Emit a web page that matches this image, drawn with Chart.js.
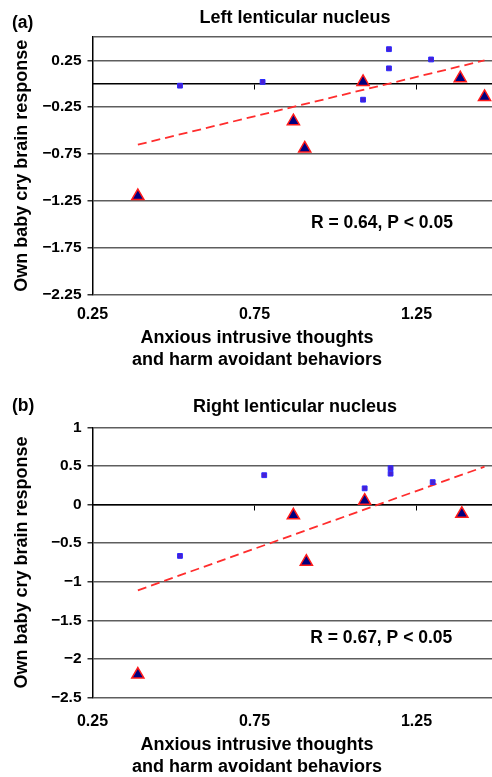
<!DOCTYPE html>
<html>
<head>
<meta charset="utf-8">
<script src="https://cdn.jsdelivr.net/npm/chart.js@4.4.1/dist/chart.umd.min.js"></script>
<style>
  html, body { margin: 0; padding: 0; background: #fff; overflow: hidden; width: 492px; height: 777px; }
  canvas { position: absolute; left: 0; }
  #chartA { top: 0; }
  #chartB { top: 388px; }
</style>
</head>
<body>
<canvas id="chartA" width="506" height="388"></canvas>
<canvas id="chartB" width="506" height="390"></canvas>
<script>
const xTicks = [0.25, 0.75, 1.25];
const xLabels = ['0.25', '0.75', '1.25'];
const xTitle = ['Anxious intrusive thoughts', 'and harm avoidant behaviors'];
const yTitle = 'Own baby cry brain response';

// (a) left lenticular nucleus
const leftYTicks = [-2.25, -1.75, -1.25, -0.75, -0.25, 0.25, 0.5];
const leftYLabels = ['\u22122.25', '\u22121.75', '\u22121.25', '\u22120.75', '\u22120.25', '0.25', ''];
const leftSquareX = [0.52, 0.775, 1.085, 1.165, 1.165, 1.295];
const leftSquareY = [-0.02, 0.02, -0.17, 0.37, 0.165, 0.26];
const leftTriX = [0.39, 0.87, 0.905, 1.085, 1.385, 1.46];
const leftTriY = [-1.2, -0.4, -0.69, 0.02, 0.06, -0.14];
const leftFitX = [0.39, 1.46];
const leftFitY = [-0.65, 0.25];

// (b) right lenticular nucleus
const rightYTicks = [-2.5, -2, -1.5, -1, -0.5, 0, 0.5, 1];
const rightYLabels = ['\u22122.5', '\u22122', '\u22121.5', '\u22121', '\u22120.5', '0', '0.5', '1'];
const rightSquareX = [0.52, 0.78, 1.09, 1.17, 1.17, 1.3];
const rightSquareY = [-0.665, 0.38, 0.21, 0.47, 0.4, 0.29];
const rightTriX = [0.39, 0.87, 0.91, 1.09, 1.39];
const rightTriY = [-2.2, -0.14, -0.74, 0.05, -0.12];
const rightFitX = [0.39, 1.46];
const rightFitY = [-1.11, 0.49];

const family = "'Liberation Sans', Arial, Helvetica, sans-serif";
Chart.defaults.font.family = family;
Chart.defaults.color = '#000';

const pts = (xs, ys) => xs.map((x, i) => ({x: x, y: ys[i]}));

// stat text, panel letter and the (off-centre) x axis title
const notes = {
  id: 'notes',
  afterDatasetsDraw(chart, args, opts) {
    const {ctx, scales, chartArea} = chart;
    ctx.save();
    ctx.fillStyle = '#000';
    ctx.font = 'bold 17.5px ' + family;
    ctx.textBaseline = 'middle';
    ctx.textAlign = 'left';
    ctx.fillText(opts.stat, scales.x.getPixelForValue(opts.statAt[0]), scales.y.getPixelForValue(opts.statAt[1]));
    ctx.fillText(opts.panel, 12, opts.panelY);
    ctx.font = 'bold 18px ' + family;
    ctx.textAlign = 'center';
    xTitle.forEach((line, i) => {
      ctx.fillText(line, 257, chartArea.bottom + opts.xTitleDy[i]);
    });
    ctx.restore();
  }
};

function makeChart(id, o) {
  return new Chart(document.getElementById(id), {
    type: 'scatter',
    data: {
      datasets: [{
        data: pts(o.triX, o.triY),
        pointStyle: 'triangle',
        pointRadius: 7,
        backgroundColor: '#000080',
        borderColor: '#ff1a1a',
        borderWidth: 1.5
      }, {
        data: pts(o.sqX, o.sqY),
        pointStyle: 'rect',
        pointRadius: 3.4,
        backgroundColor: '#4a1fd0',
        borderColor: '#2b2bff',
        borderWidth: 1
      }, {
        data: pts(o.fitX, o.fitY),
        showLine: true,
        pointRadius: 0,
        borderColor: '#ff2d2d',
        borderWidth: 1.8,
        borderDash: [9, 5]
      }]
    },
    options: {
      responsive: false,
      animation: false,
      devicePixelRatio: 1,
      layout: { padding: { left: 0, right: 0, top: 0, bottom: o.padBottom } },
      plugins: {
        legend: { display: false },
        tooltip: { enabled: false },
        title: {
          display: true,
          text: o.title,
          fullSize: false,
          font: { size: 18, weight: 'bold' },
          padding: o.titlePad
        },
        notes: { stat: o.stat, statAt: o.statAt, panel: o.panel, panelY: o.panelY, xTitleDy: o.xTitleDy }
      },
      scales: {
        x: {
          type: 'linear',
          min: 0.25,
          max: 1.5,
          afterBuildTicks: s => { s.ticks = xTicks.map(v => ({value: v})); },
          afterFit: s => { s.height = o.xHeight; },
          grid: { display: false, drawTicks: false },
          border: { display: false },
          ticks: {
            padding: o.labelPad,
            font: { size: 16, weight: 'bold' },
            callback: (v, i) => xLabels[i]
          }
        },
        x2: {
          type: 'linear',
          position: { y: 0 },
          min: 0.25,
          max: 1.5,
          afterBuildTicks: s => { s.ticks = xTicks.map(v => ({value: v})); },
          ticks: { display: false },
          grid: { drawOnChartArea: false, drawTicks: true, tickLength: 5, tickColor: '#000', tickWidth: 1 },
          border: { color: '#000', width: 1.5 }
        },
        y: {
          type: 'linear',
          min: o.yTicks[0],
          max: o.yTicks[o.yTicks.length - 1],
          afterBuildTicks: s => { s.ticks = o.yTicks.map(v => ({value: v})); },
          afterFit: s => { s.width = 92.5; },
          grid: {
            color: '#5e5e5e',
            lineWidth: 1.5,
            tickLength: 5,
            tickColor: c => o.yLabels[c.index] === '' ? 'rgba(0,0,0,0)' : '#333'
          },
          border: { color: '#000', width: 1.5 },
          ticks: {
            padding: 6,
            font: { size: 15.5, weight: 'bold' },
            callback: (v, i) => o.yLabels[i]
          },
          title: {
            display: true,
            text: yTitle,
            font: { size: 18, weight: 'bold', lineHeight: 1.28 },
            padding: { top: 10.5, bottom: 4 }
          }
        }
      }
    },
    plugins: [notes]
  });
}

makeChart('chartA', {
  title: 'Left lenticular nucleus',
  panel: '(a)', panelY: 23,
  stat: 'R = 0.64, P < 0.05', statAt: [0.924, -1.485],
  yTicks: leftYTicks, yLabels: leftYLabels,
  sqX: leftSquareX, sqY: leftSquareY,
  triX: leftTriX, triY: leftTriY,
  fitX: leftFitX, fitY: leftFitY,
  titlePad: { top: 7.5, bottom: 7.9 },
  xHeight: 76.6, padBottom: 17, labelPad: 10.7,
  xTitleDy: [44, 65.7]
});

makeChart('chartB', {
  title: 'Right lenticular nucleus',
  panel: '(b)', panelY: 18.5,
  stat: 'R = 0.67, P < 0.05', statAt: [0.922, -1.73],
  yTicks: rightYTicks, yLabels: rightYLabels,
  sqX: rightSquareX, sqY: rightSquareY,
  triX: rightTriX, triY: rightTriY,
  fitX: rightFitX, fitY: rightFitY,
  titlePad: { top: 7.9, bottom: 9.8 },
  xHeight: 80.3, padBottom: 0, labelPad: 14.4,
  xTitleDy: [47.3, 69]
});
</script>
</body>
</html>
